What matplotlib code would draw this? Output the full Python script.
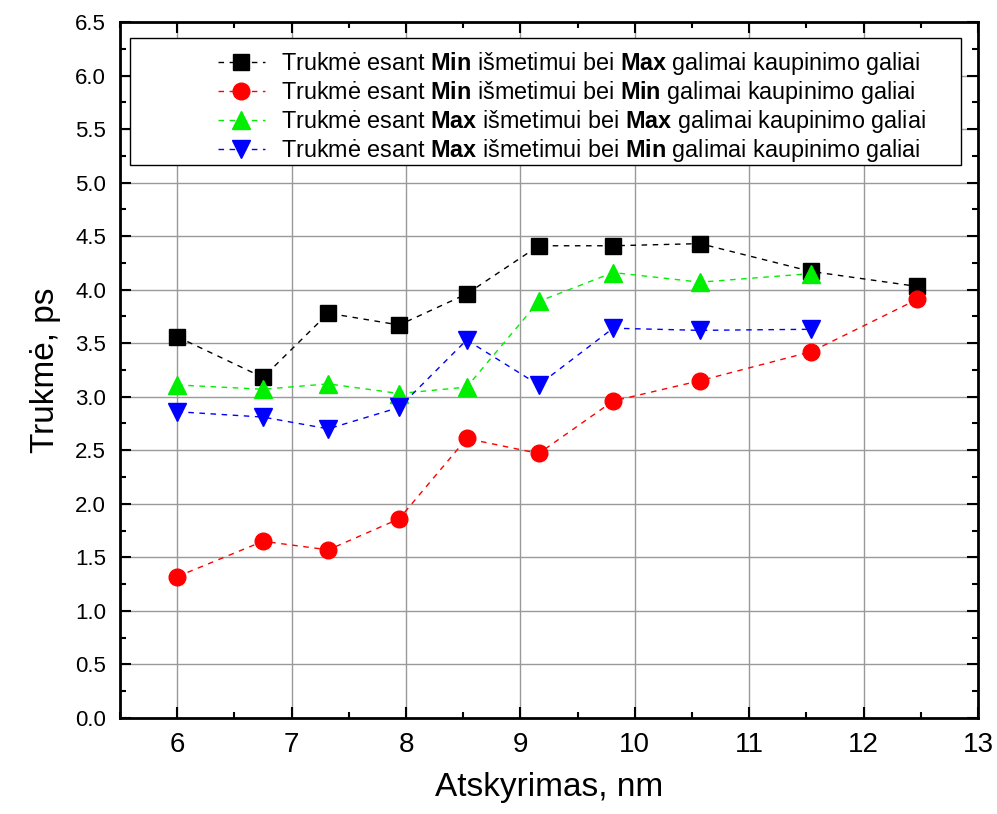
import matplotlib
matplotlib.use("Agg")
import matplotlib.pyplot as plt
from matplotlib.patches import Rectangle
from matplotlib.ticker import MultipleLocator

# separation (nm) for each measurement
atskyrimas = [6.0, 6.75, 7.32, 7.94, 8.53, 9.16, 9.81, 10.57, 11.54, 12.47]

# duration, ps
min_max = [3.56, 3.18, 3.78, 3.67, 3.96, 4.41, 4.41, 4.43, 4.17, 4.03]
min_min = [1.32, 1.65, 1.57, 1.86, 2.61, 2.47, 2.96, 3.15, 3.42, 3.91]
max_max = [3.11, 3.07, 3.12, 3.03, 3.09, 3.89, 4.16, 4.07, 4.15]
max_min = [2.86, 2.81, 2.70, 2.90, 3.53, 3.11, 3.64, 3.62, 3.63]

labels = [
    r"Trukmė esant $\mathbf{Min}$ išmetimui bei $\mathbf{Max}$ galimai kaupinimo galiai",
    r"Trukmė esant $\mathbf{Min}$ išmetimui bei $\mathbf{Min}$ galimai kaupinimo galiai",
    r"Trukmė esant $\mathbf{Max}$ išmetimui bei $\mathbf{Max}$ galimai kaupinimo galiai",
    r"Trukmė esant $\mathbf{Max}$ išmetimui bei $\mathbf{Min}$ galimai kaupinimo galiai",
]

plt.rcParams['font.family'] = ['Liberation Sans', 'DejaVu Sans']
plt.rcParams['mathtext.fontset'] = 'custom'
plt.rcParams['mathtext.rm'] = 'Liberation Sans'
plt.rcParams['mathtext.bf'] = 'Liberation Sans:bold'

fig = plt.figure(figsize=(9.97, 8.14), dpi=100)
ax = fig.add_axes([0.1204, 0.118, 0.8606, 0.855])

series = [
    (atskyrimas, min_max, 'black', 's', 11.5),
    (atskyrimas, min_min, 'red', 'o', 12),
    (atskyrimas[:len(max_max)], max_max, '#00ee00', '^', 13),
    (atskyrimas[:len(max_min)], max_min, 'blue', 'v', 13),
]

for (x, y, c, m, ms), lab in zip(series, labels):
    ax.plot(x, y, color=c, linestyle=(0, (4, 4)), linewidth=1,
            marker=m, markersize=ms, markerfacecolor=c, markeredgecolor=c,
            label=lab, zorder=3)

ax.set_xlim(5.5, 13)
ax.set_ylim(0, 6.5)
ax.xaxis.set_major_locator(MultipleLocator(1))
ax.xaxis.set_minor_locator(MultipleLocator(0.5))
ax.yaxis.set_major_locator(MultipleLocator(0.5))
ax.yaxis.set_minor_locator(MultipleLocator(0.25))
ax.yaxis.set_major_formatter(lambda v, pos: f"{v:.1f}")

ax.tick_params(which='both', direction='in', top=True, right=True, width=1.5)
ax.tick_params(which='major', length=8)
ax.tick_params(which='minor', length=4)
ax.tick_params(axis='y', labelsize=16, pad=10)
ax.tick_params(axis='x', labelsize=20, pad=10)

for s in ax.spines.values():
    s.set_linewidth(2)

ax.grid(True, which='major', color='#999999', linewidth=1)
ax.set_axisbelow(True)

ax.set_xlabel('Atskyrimas, nm', fontsize=24, labelpad=10)
ax.set_ylabel('Trukmė, ps', fontsize=24, labelpad=10)

# legend frame drawn separately so it spans the width like the original
ax.add_patch(Rectangle((0.0117, 0.795), 0.969, 0.182, transform=ax.transAxes,
                       facecolor='white', edgecolor='black', linewidth=1,
                       zorder=4))
leg = ax.legend(loc='upper right', bbox_to_anchor=(0.95, 0.973),
                frameon=False, prop={'size': 16.8},
                handlelength=2, handletextpad=0.7, labelspacing=0.08,
                borderaxespad=0)
leg.set_zorder(5)

fig.savefig('out.png', dpi=100, facecolor='white')
